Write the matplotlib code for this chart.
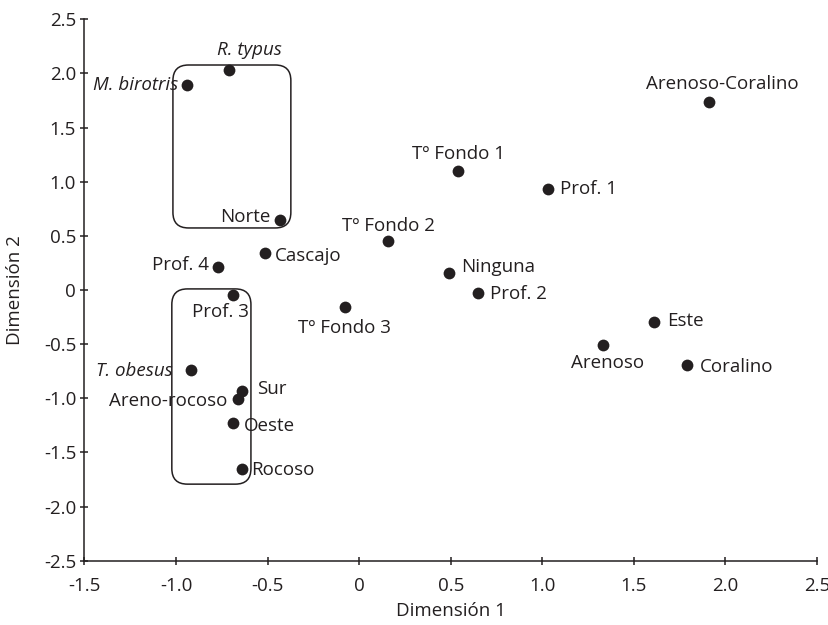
import matplotlib
matplotlib.use('Agg')
import matplotlib.pyplot as plt
from matplotlib.patches import FancyBboxPatch
from matplotlib.ticker import FuncFormatter, MultipleLocator

plt.rcParams['font.family'] = ['Open Sans', 'DejaVu Sans']
plt.rcParams['axes.unicode_minus'] = False

# puntos del análisis de correspondencias
labels = ['M. birotris', 'R. typus', 'Norte', 'Cascajo', 'Prof. 4', 'Tº Fondo 2',
          'Prof. 3', 'T. obesus', 'Sur', 'Areno-rocoso', 'Oeste', 'Rocoso',
          'Tº Fondo 1', 'Prof. 1', 'Ninguna', 'Prof. 2', 'Tº Fondo 3',
          'Este', 'Arenoso', 'Coralino', 'Arenoso-Coralino']
dim1 = [-0.94, -0.71, -0.43, -0.515, -0.77, 0.155,
        -0.69, -0.92, -0.64, -0.66, -0.69, -0.64,
        0.537, 1.03, 0.49, 0.65, -0.08,
        1.61, 1.33, 1.79, 1.91]
dim2 = [1.89, 2.03, 0.65, 0.34, 0.21, 0.45,
        -0.05, -0.74, -0.93, -1.01, -1.23, -1.65,
        1.10, 0.93, 0.16, -0.03, -0.16,
        -0.30, -0.51, -0.69, 1.74]
species = ['M. birotris', 'R. typus', 'T. obesus']

# (dx, dy en pixeles, alineacion)
offsets = {
    'M. birotris': (-9, 0, 'right'), 'R. typus': (20, 20, 'center'),
    'Norte': (-10, 3, 'right'), 'Cascajo': (10, -3, 'left'),
    'Prof. 4': (-9, 2, 'right'), 'Tº Fondo 2': (1, 15, 'center'),
    'Prof. 3': (16, -17, 'right'), 'T. obesus': (-18, -1, 'right'),
    'Sur': (15, 2, 'left'), 'Areno-rocoso': (-11, -2, 'right'),
    'Oeste': (11, -3, 'left'), 'Rocoso': (9, -1, 'left'),
    'Tº Fondo 1': (1, 17, 'center'), 'Prof. 1': (12, 0, 'left'),
    'Ninguna': (12, 6, 'left'), 'Prof. 2': (12, -1, 'left'),
    'Tº Fondo 3': (0, -21, 'center'), 'Este': (13, 1, 'left'),
    'Arenoso': (5, -18, 'center'), 'Coralino': (13, -2, 'left'),
    'Arenoso-Coralino': (13, 18, 'center'),
}

ink = '#231f20'
fs = 13.5
fig = plt.figure(figsize=(8.29, 6.25), dpi=100)
ax = fig.add_axes([0.1019, 0.1029, 0.8836, 0.8662])
ax.set_xlim(-1.5, 2.5)
ax.set_ylim(-2.5, 2.5)

ax.scatter(dim1, dim2, s=72, color=ink, zorder=3, linewidths=0)

for lab, x, y in zip(labels, dim1, dim2):
    dx, dy, ha = offsets[lab]
    ax.annotate(lab, (x, y), xytext=(dx * 0.72, dy * 0.72), textcoords='offset points',
                ha=ha, va='center', fontsize=fs, color=ink,
                style='italic' if lab in species else 'normal')

# recuadros redondeados
for x0, x1, y0, y1 in [(-1.017, -0.373, 0.573, 2.078), (-1.023, -0.591, -1.793, 0.01)]:
    box = FancyBboxPatch((x0, y0), x1 - x0, y1 - y0,
                         boxstyle='round,pad=0,rounding_size=0.085',
                         mutation_aspect=1.69, fill=False, edgecolor=ink, lw=1.1)
    ax.add_patch(box)

for s in ['top', 'right']:
    ax.spines[s].set_visible(False)
for s in ['left', 'bottom']:
    ax.spines[s].set_color(ink)
    ax.spines[s].set_linewidth(1.1)

ax.xaxis.set_major_locator(MultipleLocator(0.5))
ax.yaxis.set_major_locator(MultipleLocator(0.5))
fmt = FuncFormatter(lambda v, p: '0' if abs(v) < 1e-9 else f'{v:.1f}')
ax.xaxis.set_major_formatter(fmt)
ax.yaxis.set_major_formatter(fmt)
ax.tick_params(direction='inout', length=6, width=1.1, color=ink,
               labelsize=fs, labelcolor=ink, pad=3)
ax.tick_params(axis='x', pad=9)

ax.set_xlabel('Dimensión 1', fontsize=fs, color=ink, labelpad=5)
ax.set_ylabel('Dimensión 2', fontsize=fs, color=ink, labelpad=14)

fig.savefig('out.png', dpi=100)
